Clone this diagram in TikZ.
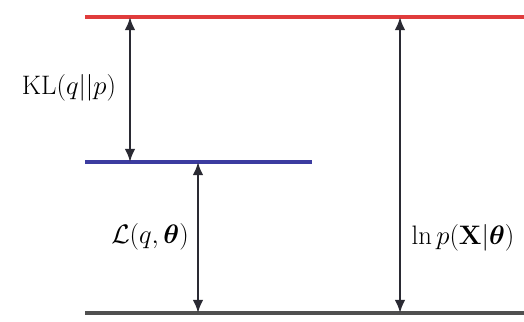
\documentclass[tikz,border=0pt]{standalone}
\usepackage{fix-cm}
\usepackage{tikz}
\usetikzlibrary{arrows.meta,positioning}
\usepackage{xcolor}
\usepackage{amsmath,bm}
\definecolor{bound}{HTML}{E03C3C}
\definecolor{lower}{HTML}{3C3CA0}
\definecolor{base}{HTML}{505050}
\definecolor{gap}{HTML}{2A2A33}

\begin{document}
\begin{tikzpicture}[x=0.025cm,y=-0.025cm,
    level/.style={line width=2.6pt},
    gaparrow/.style={gap,line width=1.7pt,{Latex[length=0.33cm,width=0.27cm]}-{Latex[length=0.33cm,width=0.27cm]}},
    lbl/.style={font=\fontsize{19}{23}\selectfont}]
  \useasboundingbox (0,0) rectangle (524,321);
  % levels
  \draw[level,bound] (85,17) coordinate (ltop) -- (524,17) coordinate (rtop);
  \draw[level,lower] (85,162) coordinate (lmid) -- (312,162) coordinate (rmid);
  \draw[level,base] (85,313) coordinate (lbot) -- (524,313) coordinate (rbot);
  % arrow ends
  \coordinate (kla) at (130,17);
  \coordinate (klb) at (130,162);
  \coordinate (lba) at (198,162);
  \coordinate (lbb) at (198,313);
  \coordinate (lpa) at (400,17);
  \coordinate (lpb) at (400,313);
  \draw[gaparrow] (kla) -- (klb);
  \draw[gaparrow] (lba) -- (lbb);
  \draw[gaparrow] (lpa) -- (lpb);
  % labels
  \node[lbl] (kl) at (69,88) {$\mathrm{KL}(q||p)$};
  \node[lbl] (lq) at (150,237) {$\mathcal{L}(q,\bm{\theta})$};
  \node[lbl] (lnp) at (463,238) {$\ln p(\mathbf{X}|\bm{\theta})$};
\end{tikzpicture}
\end{document}
